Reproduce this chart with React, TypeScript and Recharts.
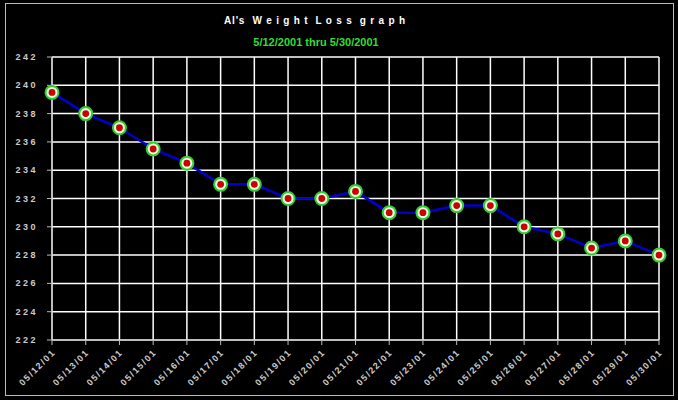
import React from "react";
import {
  LineChart,
  Line,
  XAxis,
  YAxis,
  CartesianGrid,
} from "recharts";

const dates = [
  "05/12/01", "05/13/01", "05/14/01", "05/15/01", "05/16/01", "05/17/01",
  "05/18/01", "05/19/01", "05/20/01", "05/21/01", "05/22/01", "05/23/01",
  "05/24/01", "05/25/01", "05/26/01", "05/27/01", "05/28/01", "05/29/01",
  "05/30/01",
];
const weights = [
  239.5, 238, 237, 235.5, 234.5, 233, 233, 232, 232, 232.5, 231, 231,
  231.5, 231.5, 230, 229.5, 228.5, 229, 228,
];
const yTicks = [222, 224, 226, 228, 230, 232, 234, 236, 238, 240, 242];

const data = dates.map((date, i) => ({ date, weight: weights[i] }));

const XTick = (props: any) => {
  const { x, y, payload } = props;
  return (
    <text
      x={x + 4}
      y={y + 6}
      transform={`rotate(-45 ${x + 4} ${y + 6})`}
      textAnchor="end"
      fill="#cccccc"
      fontSize={9}
      fontWeight="bold"
      letterSpacing={1.5}
      fontFamily="Liberation Sans, Arial, sans-serif"
    >
      {payload.value}
    </text>
  );
};

const YTick = (props: any) => {
  const { x, y, payload } = props;
  return (
    <text
      x={x - 7}
      y={y + 3}
      textAnchor="end"
      fill="#cccccc"
      fontSize={9}
      fontWeight="bold"
      letterSpacing={2.5}
      fontFamily="Liberation Sans, Arial, sans-serif"
    >
      {payload.value}
    </text>
  );
};

const Marker = (props: any) => {
  const { cx, cy, index } = props;
  return (
    <g key={index}>
      <circle cx={cx} cy={cy} r={6.5} fill="#e8ffe0" stroke="#33cc33" strokeWidth={2} />
      <circle cx={cx} cy={cy} r={3.4} fill="#cc0000" />
    </g>
  );
};

export default function App() {
  return (
    <div
      style={{
        position: "absolute",
        left: 0,
        top: 0,
        width: 678,
        height: 400,
        background: "#000",
        fontFamily: "Liberation Sans, Arial, sans-serif",
      }}
    >
      <div
        style={{
          position: "absolute",
          left: 5,
          top: 3,
          width: 667,
          height: 391,
          border: "1px solid #bbbbbb",
        }}
      />
      <div
        style={{
          position: "absolute",
          left: 0,
          width: 630,
          top: 15,
          textAlign: "center",
          color: "#ffffff",
          fontSize: 10,
          fontWeight: "bold",
          whiteSpace: "pre",
          letterSpacing: 0.8,
        }}
      >
        {"Al's  W e i g h t  L o s s  g r a p h"}
      </div>
      <div
        style={{
          position: "absolute",
          left: 0,
          width: 632,
          top: 36,
          textAlign: "center",
          color: "#33dd33",
          fontSize: 11,
          fontWeight: "bold",
        }}
      >
        5/12/2001 thru 5/30/2001
      </div>
      <div style={{ position: "absolute", left: 0, top: 0 }}>
        <LineChart
          width={678}
          height={400}
          data={data}
          margin={{ top: 57, right: 19, left: 0, bottom: 0 }}
        >
          <CartesianGrid stroke="#ffffff" strokeWidth={1.5} vertical={true} horizontal={true} />
          <XAxis
            dataKey="date"
            height={60}
            interval={0}
            stroke="#bbbbbb"
            tickSize={5}
            tick={<XTick />}
          />
          <YAxis
            domain={[222, 242]}
            ticks={yTicks}
            width={52}
            stroke="#bbbbbb"
            tickSize={5}
            tick={<YTick />}
            allowDataOverflow
          />
          <Line
            type="linear"
            dataKey="weight"
            stroke="#0000cc"
            strokeWidth={2.5}
            dot={<Marker />}
            activeDot={false}
            isAnimationActive={false}
          />
        </LineChart>
      </div>
    </div>
  );
}
